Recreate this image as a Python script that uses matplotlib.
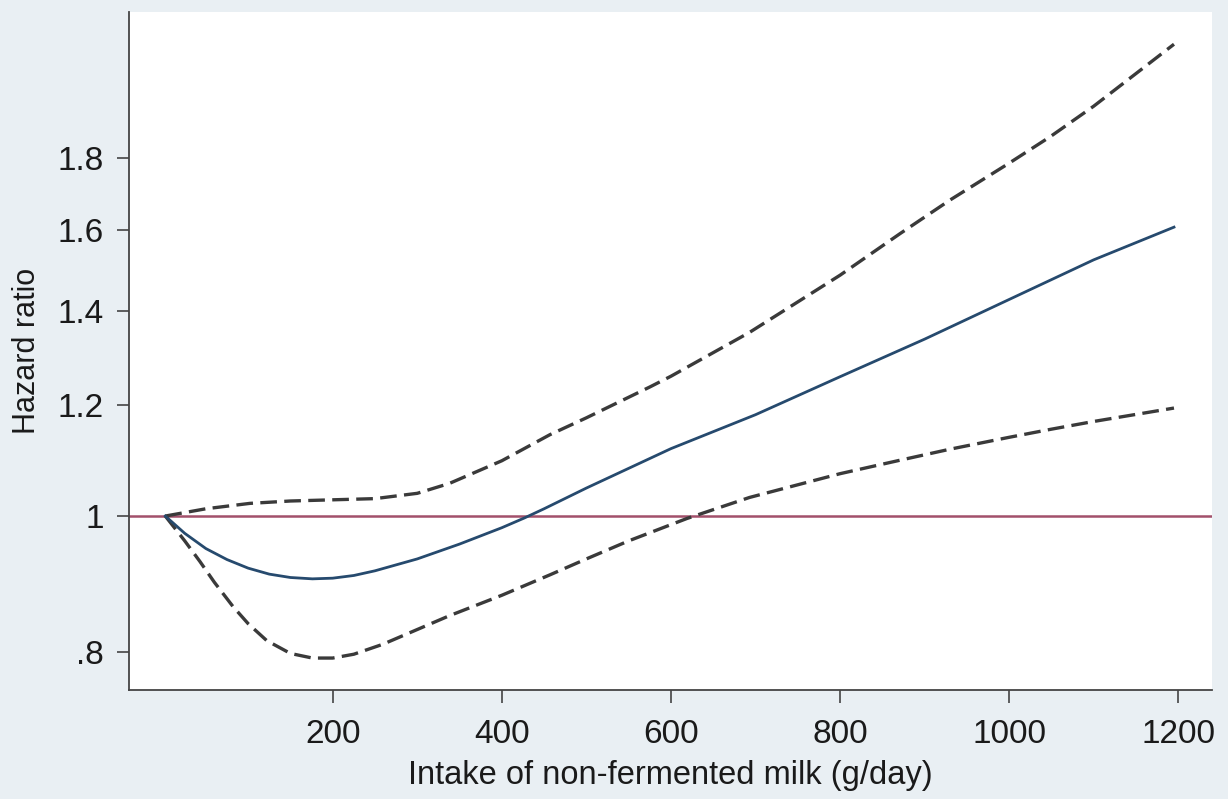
import matplotlib
matplotlib.use("Agg")
from matplotlib import pyplot as plt
from matplotlib.ticker import FixedLocator, NullLocator

# intake (g/day) and hazard ratio
x_hr = [2, 25, 50, 75, 100, 125, 150, 176, 200, 225, 250, 300, 350, 400, 427, 450, 500, 600, 700, 800, 900, 1000, 1100, 1195]
hr = [1.0, 0.972, 0.948, 0.931, 0.918, 0.909, 0.904, 0.902, 0.903, 0.907, 0.914, 0.932, 0.955, 0.981, 0.997, 1.012, 1.047,
      1.117, 1.181, 1.257, 1.337, 1.427, 1.523, 1.607]

x_up = [2, 50, 102, 150, 200, 250, 300, 338, 400, 457, 500, 575, 600, 693, 800, 871, 930, 1000, 1049, 1100, 1195]
upper = [1.0, 1.012, 1.021, 1.025, 1.027, 1.029, 1.038, 1.055, 1.095, 1.143, 1.175, 1.236, 1.258, 1.352, 1.485, 1.59,
         1.68, 1.785, 1.865, 1.96, 2.17]

x_lo = [2, 25, 43, 60, 82, 100, 122, 150, 176, 200, 225, 259, 300, 338, 400, 457, 500, 550, 619, 693, 800, 871, 930,
        1000, 1049, 1100, 1195]
lower = [1.0, 0.96, 0.928, 0.897, 0.862, 0.838, 0.815, 0.798, 0.792, 0.792, 0.797, 0.81, 0.83, 0.849, 0.878, 0.908,
         0.932, 0.96, 0.996, 1.031, 1.072, 1.096, 1.116, 1.138, 1.153, 1.168, 1.194]

xticks = [200, 400, 600, 800, 1000, 1200]
yticks = [0.8, 1.0, 1.2, 1.4, 1.6, 1.8]
ylabels = ['.8', '1', '1.2', '1.4', '1.6', '1.8']

plt.rcParams['font.family'] = ['Liberation Sans', 'DejaVu Sans']

fig = plt.figure(figsize=(12.28, 7.99), dpi=100, facecolor='#e9eff3')
ax = fig.add_axes([0.105, 0.1364, 0.882, 0.8486])
ax.set_facecolor('white')

ax.axhline(1.0, color='#a2506b', lw=1.8, zorder=1)
ax.plot(x_up, upper, color='#3a3a3a', lw=2.4, ls=(0, (5, 2.2)), zorder=2)
ax.plot(x_lo, lower, color='#3a3a3a', lw=2.4, ls=(0, (5, 2.2)), zorder=2)
ax.plot(x_hr, hr, color='#264a6e', lw=2.0, zorder=3)

ax.set_yscale('log')
ax.set_ylim(0.7515, 2.288)
ax.set_xlim(-41, 1240)
ax.yaxis.set_major_locator(FixedLocator(yticks))
ax.yaxis.set_minor_locator(NullLocator())
ax.set_yticklabels(ylabels)
ax.set_xticks(xticks)
ax.set_xticklabels([str(t) for t in xticks])

for s in ['top', 'right']:
    ax.spines[s].set_visible(False)
for s in ['left', 'bottom']:
    ax.spines[s].set_color('#444444')
    ax.spines[s].set_linewidth(1.3)

ax.tick_params(axis='both', direction='out', length=9, width=1.2, color='#444444',
               labelsize=24, labelcolor='#1a1a1a')
ax.tick_params(axis='y', pad=9)
ax.tick_params(axis='x', pad=12)
ax.set_xlabel('Intake of non-fermented milk (g/day)', fontsize=23.5, color='#1a1a1a', labelpad=7)
ax.set_ylabel('Hazard ratio', fontsize=22, color='#1a1a1a', labelpad=11)

fig.savefig('out.png', dpi=100, facecolor=fig.get_facecolor())
